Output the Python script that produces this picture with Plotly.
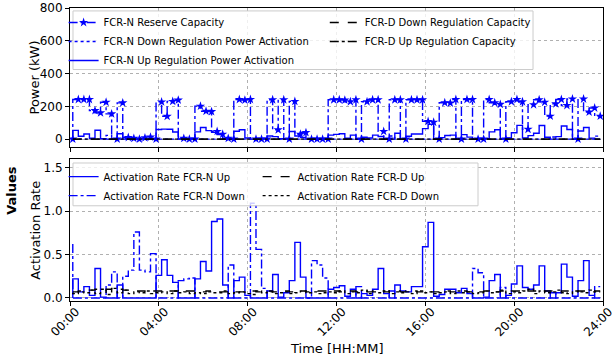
import plotly.graph_objects as go

# ---------------- data (15-min resolution, 96 points) ----------------
tick_vals = [0, 4, 8, 12, 16, 20, 24]
tick_text = ["00:00", "04:00", "08:00", "12:00", "16:00", "20:00", "24:00"]

reserve_capacity_kw = [
    0, 242, 242, 242, 174, 160, 225, 154, 0, 221, 10, 5,
    0, 8, 12, 0, 227, 139, 230, 238, 5, 0, 0, 201,
    170, 168, 47, 30, 5, 0, 242, 238, 242, 0, 0, 0,
    240, 57, 240, 0, 230, 30, 40, 0, 0, 0, 0, 240,
    240, 238, 228, 240, 0, 228, 240, 240, 47, 0, 240, 240,
    0, 240, 240, 240, 108, 103, 0, 222, 220, 242, 0, 242,
    242, 0, 0, 242, 222, 212, 0, 228, 242, 228, 60, 210,
    240, 225, 140, 215, 242, 205, 245, 0, 245, 165, 190, 140,
]
down_power_kw = [
    0, 0, 0, 0, 0, 0, 0, 23, 0, 0, 3, 2,
    0, 3, 4, 0, 0, 0, 0, 0, 1, 0, 0, 0,
    0, 0, 0, 0, 0, 0, 0, 0, 0, 0, 0, 0,
    0, 0, 0, 0, 0, 0, 0, 0, 0, 0, 0, 0,
    0, 0, 0, 0, 0, 0, 0, 0, 0, 0, 19, 0,
    0, 0, 0, 0, 0, 0, 0, 0, 0, 0, 0, 0,
    0, 0, 0, 0, 0, 0, 0, 0, 0, 0, 0, 0,
    0, 0, 0, 13, 0, 0, 0, 0, 0, 0, 0, 18,
]
up_power_kw = [
    0, 53, 17, 31, 5, 54, 2, 0, 0, 33, 0, 0,
    0, 0, 0, 0, 59, 61, 60, 43, 0, 0, 0, 44,
    71, 52, 41, 27, 1, 0, 48, 57, 7, 0, 0, 0,
    19, 15, 2, 0, 46, 19, 10, 0, 0, 0, 0, 24,
    29, 33, 5, 24, 0, 11, 7, 24, 16, 0, 0, 36,
    0, 17, 31, 31, 64, 90, 0, 9, 22, 24, 0, 27,
    12, 0, 0, 2, 44, 57, 0, 7, 39, 84, 7, 21,
    36, 83, 11, 0, 15, 80, 59, 0, 49, 71, 6, 0,
]
fcrd_down_capacity_kw = [0] * 96
fcrd_up_capacity_kw = [0] * 96

rate_fcrn_up = [
    0, 0.22, 0.07, 0.13, 0.03, 0.34, 0.01, 0, 0, 0.15, 0, 0,
    0, 0, 0, 0, 0.26, 0.44, 0.26, 0.18, 0, 0, 0, 0.22,
    0.42, 0.31, 0.88, 0.91, 0.15, 0, 0.20, 0.24, 0.03, 0, 0, 0,
    0.08, 0.27, 0.01, 0.06, 0.20, 0.64, 0.24, 0, 0, 0, 0, 0.10,
    0.12, 0.14, 0.02, 0.10, 0, 0.05, 0.03, 0.10, 0.34, 0.05, 0, 0.15,
    0.08, 0.07, 0.13, 0.13, 0.59, 0.87, 0.02, 0.04, 0.10, 0.10, 0.06, 0.11,
    0.05, 0, 0, 0.01, 0.20, 0.27, 0, 0.03, 0.16, 0.37, 0.12, 0.10,
    0.15, 0.37, 0.08, 0, 0.06, 0.39, 0.24, 0.02, 0.20, 0.43, 0.03, 0,
]
rate_fcrn_down = [
    0.62, 0, 0, 0, 0, 0, 0, 0.15, 0.30, 0, 0.25, 0.32,
    0.76, 0.32, 0.30, 0.51, 0, 0, 0, 0, 0.20, 0.22, 0.23, 0,
    0, 0, 0, 0, 0, 0.38, 0, 0, 0, 1.09, 0.56, 0.11,
    0, 0, 0, 0, 0, 0, 0, 0, 0.43, 0.38, 0.23, 0,
    0, 0, 0, 0, 0.13, 0, 0, 0, 0, 0, 0.08, 0,
    0, 0, 0, 0, 0, 0, 0, 0, 0, 0, 0, 0,
    0, 0.34, 0.29, 0, 0, 0, 0.12, 0, 0, 0, 0, 0,
    0, 0, 0, 0.06, 0, 0, 0, 0, 0, 0, 0, 0.13,
]
rate_fcrd_up = [
    0.07, 0.07, 0.08, 0.08, 0.09, 0.10, 0.09, 0.10, 0.11, 0.10, 0.09, 0.08,
    0.08, 0.08, 0.07, 0.08, 0.08, 0.07, 0.08, 0.08, 0.07, 0.08, 0.08, 0.07,
    0.07, 0.08, 0.07, 0.07, 0.07, 0.08, 0.07, 0.07, 0.08, 0.08, 0.07, 0.08,
    0.08, 0.07, 0.08, 0.08, 0.07, 0.08, 0.08, 0.07, 0.07, 0.08, 0.08, 0.07,
    0.08, 0.07, 0.08, 0.08, 0.07, 0.08, 0.07, 0.08, 0.08, 0.07, 0.08, 0.08,
    0.07, 0.08, 0.08, 0.07, 0.08, 0.07, 0.07, 0.07, 0.08, 0.07, 0.07, 0.08,
    0.07, 0.08, 0.07, 0.08, 0.08, 0.07, 0.08, 0.07, 0.08, 0.08, 0.07, 0.08,
    0.08, 0.07, 0.08, 0.08, 0.07, 0.08, 0.08, 0.07, 0.08, 0.08, 0.07, 0.08,
]
rate_fcrd_down = [
    0.06, 0.05, 0.07, 0.06, 0.09, 0.05, 0.10, 0.04, 0.11, 0.06, 0.09, 0.05,
    0.07, 0.06, 0.08, 0.05, 0.06, 0.07, 0.05, 0.08, 0.06, 0.07, 0.05, 0.06,
    0.05, 0.07, 0.06, 0.06, 0.08, 0.05, 0.06, 0.07, 0.05, 0.04, 0.08, 0.06,
    0.07, 0.05, 0.06, 0.07, 0.05, 0.06, 0.08, 0.06, 0.07, 0.05, 0.06, 0.07,
    0.06, 0.08, 0.05, 0.07, 0.06, 0.09, 0.05, 0.07, 0.06, 0.08, 0.05, 0.07,
    0.06, 0.07, 0.05, 0.08, 0.06, 0.07, 0.05, 0.06, 0.07, 0.05, 0.08, 0.06,
    0.07, 0.05, 0.06, 0.08, 0.06, 0.07, 0.09, 0.05, 0.07, 0.06, 0.08, 0.10,
    0.05, 0.08, 0.06, 0.07, 0.09, 0.06, 0.05, 0.08, 0.07, 0.06, 0.09, 0.07,
]

# time stamps (hours) of the 15-minute intervals
hours = [0.125 + 0.25 * k for k in range(96)]

BLUE = "#0000ff"
FONT = "DejaVu Sans"

fig = go.Figure()

# ---------- top panel ----------
top = [
    ("FCR-N Reserve Capacity", reserve_capacity_kw, BLUE, "dashdot", True, "legend"),
    ("FCR-N Down Regulation Power Activation", down_power_kw, BLUE, "dot", False, "legend"),
    ("FCR-N Up Regulation Power Activation", up_power_kw, BLUE, "solid", False, "legend"),
    ("FCR-D Down Regulation Capacity", fcrd_down_capacity_kw, "black", "dash", False, "legend3"),
    ("FCR-D Up Regulation Capacity", fcrd_up_capacity_kw, "black", "dashdot", False, "legend3"),
]
for name, vals, col, dash, mk, lg in top:
    fig.add_trace(go.Scatter(
        x=hours, y=vals, name=name, xaxis="x", yaxis="y",
        mode="lines+markers" if mk else "lines",
        line=dict(color=col, dash=dash, width=1.4, shape="vh"),
        marker=dict(symbol="star", size=7, color=BLUE) if mk else None,
        legend=lg,
    ))

# ---------- bottom panel ----------
bottom = [
    ("Activation Rate FCR-N Up", rate_fcrn_up, BLUE, "solid", "legend2"),
    ("Activation Rate FCR-N Down", rate_fcrn_down, BLUE, "dashdot", "legend2"),
    ("Activation Rate FCR-D Up", rate_fcrd_up, "black", "dash", "legend4"),
    ("Activation Rate FCR-D Down", rate_fcrd_down, "black", "dot", "legend4"),
]
for name, vals, col, dash, lg in bottom:
    fig.add_trace(go.Scatter(
        x=hours, y=vals, name=name, xaxis="x2", yaxis="y2", mode="lines",
        line=dict(color=col, dash=dash, width=1.4, shape="vh"),
        legend=lg,
    ))

axis_common = dict(
    showline=True, mirror=True, linecolor="black", linewidth=1,
    ticks="outside", ticklen=4, tickcolor="black",
    showgrid=True, gridcolor="#b0b0b0", griddash="dot", gridwidth=0.8,
    zeroline=False, tickfont=dict(family=FONT, size=12, color="black"),
    automargin=False,
)

leg = dict(orientation="v", xanchor="left", yanchor="top",
           bgcolor="rgba(0,0,0,0)", borderwidth=0,
           font=dict(family=FONT, size=10, color="black"))

fig.update_layout(
    width=615, height=355,
    margin=dict(l=70, r=12, t=8, b=54),
    plot_bgcolor="white", paper_bgcolor="white",
    font=dict(family=FONT, color="black"),
    xaxis=dict(axis_common, anchor="y", range=[0, 24], tickvals=tick_vals,
               ticktext=tick_text, showticklabels=False),
    yaxis=dict(axis_common, domain=[0.5246, 1], range=[-50, 800],
               tickvals=[0, 200, 400, 600, 800], anchor="x"),
    xaxis2=dict(axis_common, anchor="y2", matches="x", range=[0, 24],
                tickvals=tick_vals, ticktext=tick_text, tickangle=-45,
                ticklabelshift=6, ticklabelstandoff=-6, ticklabeloverflow="allow"),
    yaxis2=dict(axis_common, domain=[0, 0.4846], range=[-0.035, 1.6],
                tickvals=[0, 0.5, 1.0, 1.5], ticktext=["0.0", "0.5", "1.0", "1.5"],
                anchor="x2"),
    legend=dict(leg, x=-0.012, y=1.0),
    legend3=dict(leg, x=0.478, y=1.0),
    legend2=dict(leg, x=-0.012, y=0.474),
    legend4=dict(leg, x=0.352, y=0.474),
    showlegend=True,
)

# legend frames (white, semi-opaque, light grey border)
box = dict(type="rect", xref="paper", yref="paper", layer="above",
           fillcolor="rgba(255,255,255,0.8)", line=dict(color="#cccccc", width=1))
fig.add_shape(box, x0=0.0056, x1=0.8687, y0=0.7900, y1=0.9900)
fig.add_shape(box, x0=0.0056, x1=0.7655, y0=0.3250, y1=0.4710)

ann = dict(xref="paper", yref="paper", showarrow=False,
           font=dict(family=FONT, size=13, color="black"))
fig.add_annotation(ann, text="Power (kW)", x=-0.066, y=0.7623, textangle=-90,
                   xanchor="center", yanchor="middle")
fig.add_annotation(ann, text="Activation Rate", x=-0.066, y=0.2423, textangle=-90,
                   xanchor="center", yanchor="middle")
fig.add_annotation(ann, text="Time [HH:MM]", x=0.5, y=-0.1297,
                   xanchor="center", yanchor="top")
fig.add_annotation(xref="paper", yref="paper", showarrow=False, text="<b>Values</b>",
                   font=dict(family=FONT, size=13, color="black"),
                   x=-0.109, y=0.379, textangle=-90, xanchor="center", yanchor="middle")

fig.write_html("out.html")
